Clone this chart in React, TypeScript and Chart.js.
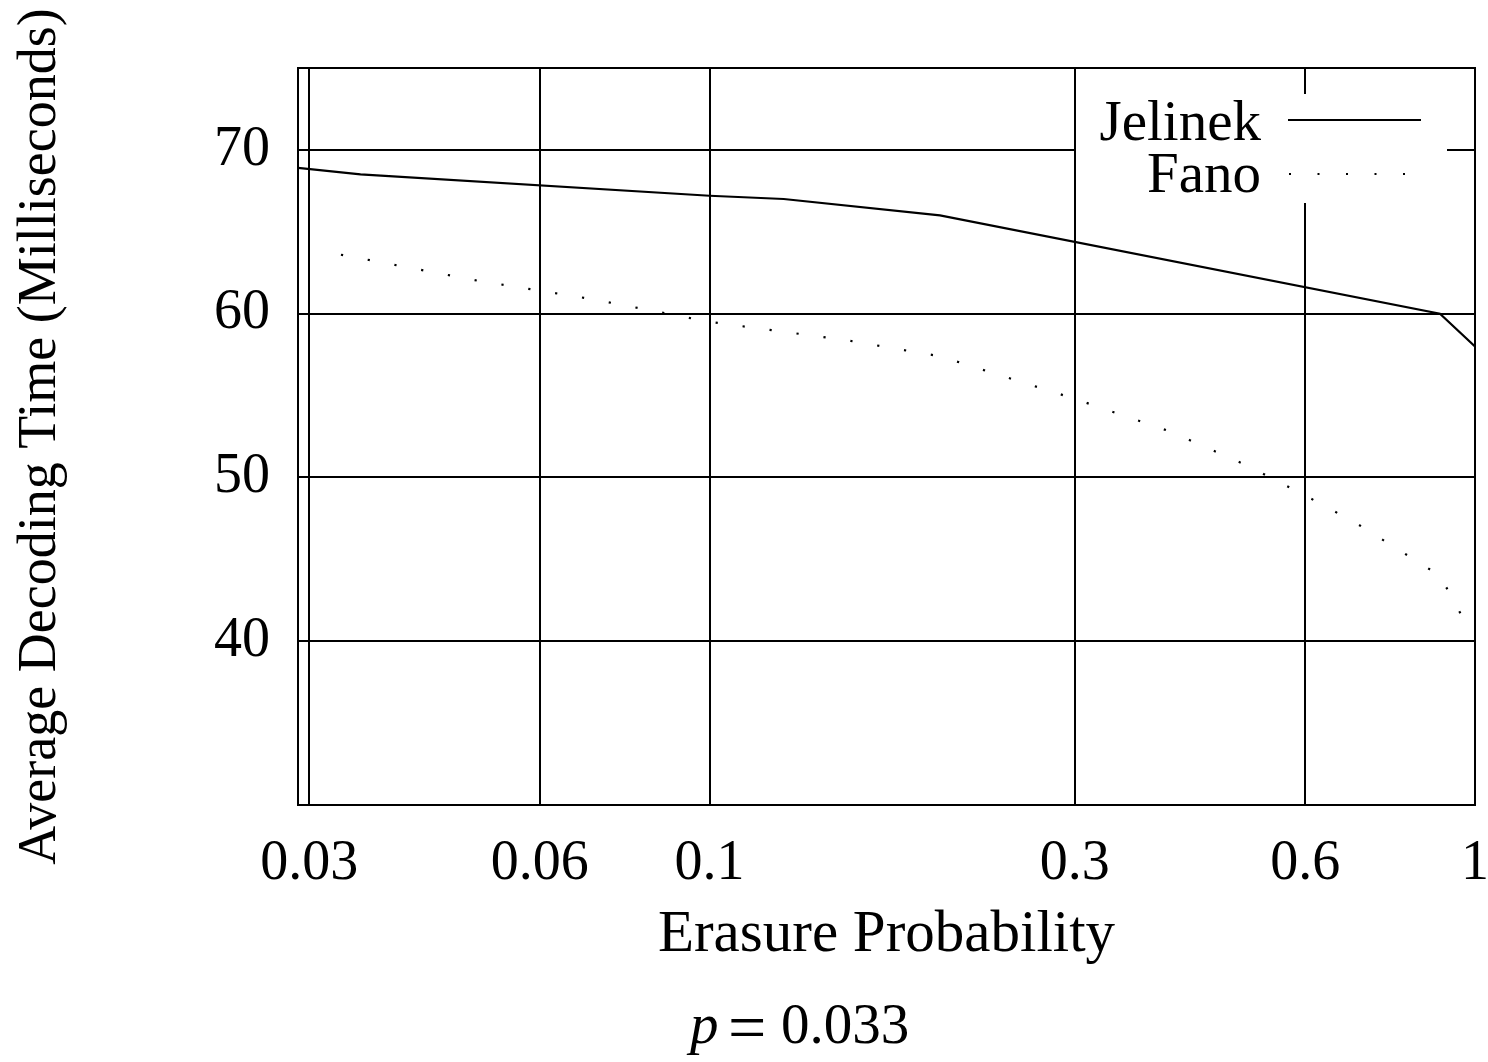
import React, { useEffect, useRef } from "react";
import { Chart, registerables } from "chart.js";

Chart.register(...registerables);

const jelinekX = [0.029, 0.035, 0.1, 0.125, 0.2, 0.9, 1.0];
const jelinekY = [68.9, 68.5, 67.2, 67.0, 66.0, 60.0, 58.0];
const fanoX = [0.033, 0.05, 0.07, 0.1, 0.15, 0.2, 0.3, 0.4, 0.5, 0.6, 0.7, 0.8, 0.9, 0.97];
const fanoY = [63.6, 62.0, 60.9, 59.5, 58.4, 57.4, 54.8, 52.8, 50.8, 48.9, 47.2, 45.5, 44.0, 41.2];
const xTicks = [0.03, 0.06, 0.1, 0.3, 0.6, 1];
const xTickLabels = ["0.03", "0.06", "0.1", "0.3", "0.6", "1"];
const yTicks = [40, 50, 60, 70];
const seriesNames = ["Jelinek", "Fano"];

const SERIF = "'Liberation Serif', 'Times New Roman', serif";

export default function App() {
  const ref = useRef<HTMLCanvasElement | null>(null);

  useEffect(() => {
    if (!ref.current) return;
    document.body.style.background = "#ffffff";

    const framePlugin = {
      id: "frameAndKey",
      afterDraw(chart: any) {
        const ctx = chart.ctx as CanvasRenderingContext2D;
        const a = chart.chartArea;
        ctx.save();
        // full frame
        ctx.strokeStyle = "#000";
        ctx.lineWidth = 2;
        ctx.strokeRect(a.left, a.top, a.right - a.left, a.bottom - a.top);
        // key box (white, covering grid)
        const kx0 = a.right - 399;
        const kx1 = a.right - 28;
        const ky0 = a.top + 26;
        const ky1 = a.top + 135;
        ctx.fillStyle = "#fff";
        ctx.fillRect(kx0, ky0, kx1 - kx0, ky1 - ky0);
        // key text
        ctx.fillStyle = "#000";
        ctx.font = `57px ${SERIF}`;
        ctx.textAlign = "right";
        ctx.textBaseline = "alphabetic";
        ctx.fillText(seriesNames[0], a.right - 214, a.top + 72);
        ctx.fillText(seriesNames[1], a.right - 214, a.top + 124);
        // key samples
        ctx.lineWidth = 2;
        ctx.beginPath();
        ctx.moveTo(a.right - 187, a.top + 52);
        ctx.lineTo(a.right - 54, a.top + 52);
        ctx.stroke();
        ctx.setLineDash([2, 26.5]);
        ctx.beginPath();
        ctx.moveTo(a.right - 186, a.top + 106);
        ctx.lineTo(a.right - 50, a.top + 106);
        ctx.stroke();
        ctx.setLineDash([]);
        // caption
        ctx.textAlign = "left";
        ctx.font = `italic 57px ${SERIF}`;
        ctx.fillText("p", 690, 1043);
        ctx.font = `68px ${SERIF}`;
        ctx.fillText("=", 728, 1050);
        ctx.font = `57px ${SERIF}`;
        ctx.fillText("0.033", 781, 1043);
        ctx.restore();
      },
    };

    const chart = new Chart(ref.current, {
      type: "line",
      data: {
        datasets: [
          {
            label: seriesNames[0],
            data: jelinekX.map((x, i) => ({ x, y: jelinekY[i] })),
            borderColor: "#000",
            borderWidth: 2.2,
            pointRadius: 0,
            tension: 0,
          },
          {
            label: seriesNames[1],
            data: fanoX.map((x, i) => ({ x, y: fanoY[i] })),
            borderColor: "#000",
            borderWidth: 2.2,
            borderDash: [2.2, 25],
            pointRadius: 0,
            tension: 0,
          },
        ],
      },
      options: {
        animation: false,
        responsive: true,
        maintainAspectRatio: false,
        layout: { padding: { top: 68, right: 13, left: 0, bottom: 0 } },
        plugins: {
          legend: { display: false },
          tooltip: { enabled: false },
          title: { display: false },
        },
        scales: {
          x: {
            type: "logarithmic",
            min: 0.029,
            max: 1,
            afterBuildTicks: (scale: any) => {
              scale.ticks = xTicks.map((v) => ({ value: v }));
            },
            afterFit: (scale: any) => {
              scale.height = 257;
              scale.paddingLeft = 0;
              scale.paddingRight = 0;
            },
            ticks: {
              autoSkip: false,
              maxRotation: 0,
              minRotation: 0,
              padding: 26,
              color: "#000",
              font: { family: SERIF, size: 56 },
              callback: (v: any) => {
                const i = xTicks.indexOf(Number(v));
                return i >= 0 ? xTickLabels[i] : "";
              },
            },
            grid: { color: "#000", lineWidth: 2, drawTicks: false },
            border: { color: "#000", width: 2 },
            title: {
              display: true,
              text: "Erasure Probability",
              color: "#000",
              font: { family: SERIF, size: 59 },
              padding: { bottom: 91, top: 0 },
            },
          },
          y: {
            min: 30,
            max: 75,
            afterBuildTicks: (scale: any) => {
              scale.ticks = yTicks.map((v) => ({ value: v }));
            },
            afterFit: (scale: any) => {
              scale.width = 298;
              scale.paddingTop = 0;
              scale.paddingBottom = 0;
            },
            ticks: {
              padding: 28,
              color: "#000",
              font: { family: SERIF, size: 56 },
              callback: (v: any) => String(v),
            },
            grid: { color: "#000", lineWidth: 2, drawTicks: false },
            border: { color: "#000", width: 2 },
            title: {
              display: true,
              text: "Average Decoding Time (Milliseconds)",
              color: "#000",
              font: { family: SERIF, size: 54 },
              padding: { top: 8, bottom: 0 },
            },
          },
        },
      },
      plugins: [framePlugin],
    } as any);

    return () => chart.destroy();
  }, []);

  return (
    <div style={{ position: "fixed", left: 0, top: 0, width: 1488, height: 1062, background: "#fff" }}>
      <canvas ref={ref} />
    </div>
  );
}
